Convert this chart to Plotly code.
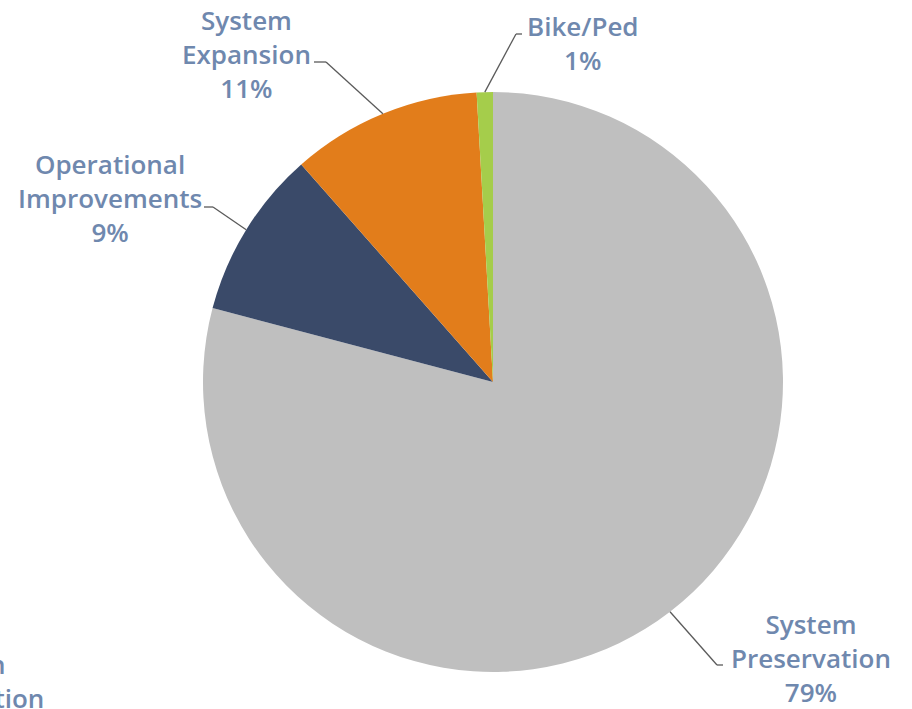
import math
import plotly.graph_objects as go

# Funding shares by program category (percent)
categories = ["System Preservation", "Operational Improvements", "System Expansion", "Bike/Ped"]
shares = [79.1, 9.4, 10.6, 0.9]
label_lines = [["System", "Preservation"], ["Operational", "Improvements"], ["System", "Expansion"], ["Bike/Ped"]]
colors = ["#BFBFBF", "#3A4A69", "#E27D1B", "#A5CD4B"]

W, H = 912, 709
CX, CY, R = 493, 382, 290  # pie centre and radius in pixels

# label anchor (pixel centre of text block) and leader elbow / end points
label_pos = [(811, 658), (110, 198), (247, 54), (583, 43)]
elbows = [((717, 665), (723, 665)), ((213, 207), (204, 207)), ((326, 62), (314, 62)), ((516, 34), (522, 34))]

TEXT_COLOR = "#6F88AE"
FONT = dict(family="Open Sans", size=26, color=TEXT_COLOR, weight=600)


def px(x):
    return x / W


def py(y):
    return (H - y) / H


fig = go.Figure(go.Pie(
    labels=categories,
    values=shares,
    sort=False,
    direction="clockwise",
    rotation=0,
    marker=dict(colors=colors, line=dict(width=0)),
    textinfo="none",
    hoverinfo="label+percent",
    domain=dict(x=[px(CX - R), px(CX + R)], y=[py(CY + R), py(CY - R)]),
    showlegend=False,
))

annotations = []
shapes = []
total = sum(shares)
cum = 0
for i, v in enumerate(shares):
    mid = (cum + v / 2) / total * 2 * math.pi
    cum += v
    sx = CX + R * math.sin(mid)
    sy = CY - R * math.cos(mid)
    (ex, ey), (fx, fy) = elbows[i]
    for (x0, y0, x1, y1) in [(sx, sy, ex, ey), (ex, ey, fx, fy)]:
        shapes.append(dict(type="line", xref="paper", yref="paper",
                           x0=px(x0), y0=py(y0), x1=px(x1), y1=py(y1),
                           line=dict(color="#5A5A5A", width=1.3)))
    pct = round(v / total * 100)
    text = "<br>".join(label_lines[i] + [f"{pct}%"])
    lx, ly = label_pos[i]
    annotations.append(dict(x=px(lx), y=py(ly), xref="paper", yref="paper",
                            text=text, showarrow=False, align="center",
                            xanchor="center", yanchor="middle", font=FONT))

# neighbouring chart label running off the left edge
annotations.append(dict(x=px(-37), y=py(681), xref="paper", yref="paper",
                        text="Design<br>Construction", showarrow=False, align="center",
                        xanchor="center", yanchor="middle", font=FONT))

fig.update_layout(
    width=W, height=H,
    margin=dict(l=0, r=0, t=0, b=0),
    paper_bgcolor="white", plot_bgcolor="white",
    annotations=annotations, shapes=shapes,
)

fig.write_html("out.html")
